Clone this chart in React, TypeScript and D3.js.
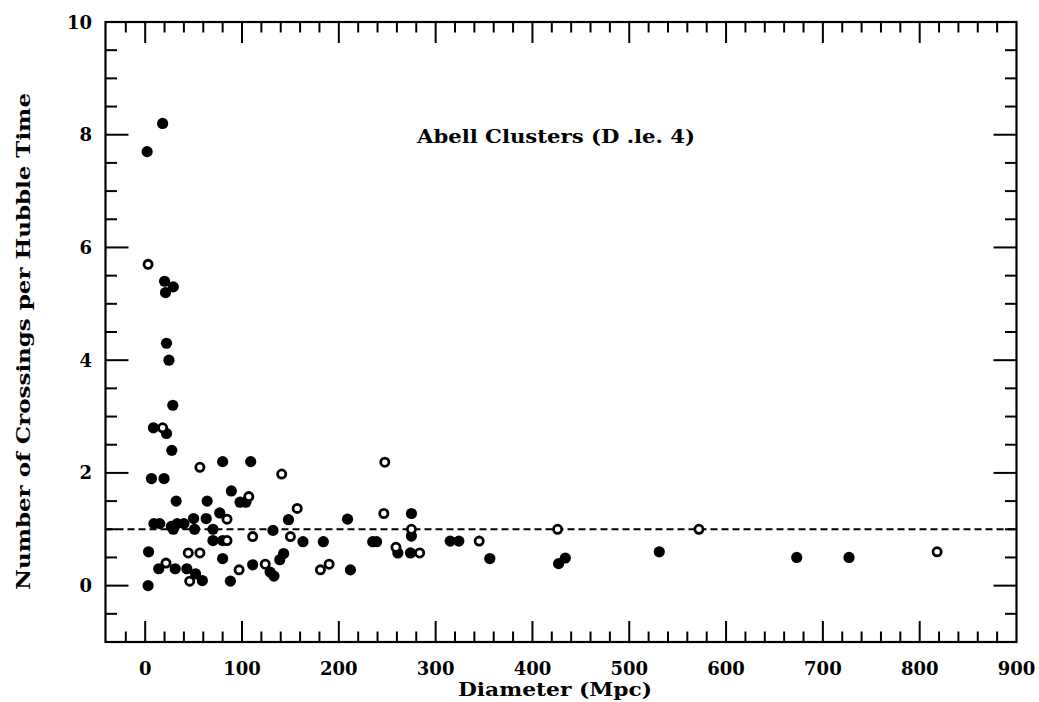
import React from "react";
import * as d3 from "d3";

const filledPoints: [number, number][] = [
  [2, 7.7], [18, 8.2], [20, 5.4], [29, 5.3], [21, 5.2], [22, 4.3], [24.5, 4.0], [28.5, 3.2],
  [8.5, 2.8], [22, 2.7], [27.5, 2.4], [80, 2.2], [109, 2.2], [6.5, 1.9], [19.5, 1.9],
  [32, 1.5], [89, 1.68], [64, 1.5], [98, 1.48], [104, 1.48], [148, 1.17], [77, 1.29],
  [63, 1.19], [50, 1.19], [9, 1.1], [15, 1.1], [27, 1.05], [33, 1.1], [40, 1.1], [29, 1.0],
  [51, 1.0], [70, 1.0], [70, 0.8], [80, 0.8], [132, 0.98], [3.5, 0.6], [80, 0.48],
  [143, 0.57], [139, 0.46], [14, 0.3], [31, 0.3], [43, 0.3], [52, 0.21], [59, 0.09],
  [88, 0.08], [111, 0.37], [129, 0.24], [133, 0.17], [3, 0.0], [209, 1.18], [275, 1.28],
  [275, 0.88], [163, 0.78], [184, 0.78], [235, 0.78], [239, 0.78], [261, 0.58], [274, 0.58],
  [315, 0.79], [324, 0.79], [212, 0.28], [356, 0.48], [427, 0.39], [434, 0.49], [531, 0.6],
  [673, 0.5], [727, 0.5],
];

const openPoints: [number, number][] = [
  [3, 5.7], [18, 2.8], [56.5, 2.1], [141, 1.98], [107, 1.58], [157, 1.37], [84.5, 1.18],
  [111, 0.87], [150, 0.87], [84.5, 0.8], [44.5, 0.58], [56.5, 0.58], [21.5, 0.4], [46, 0.08],
  [97, 0.28], [124, 0.38], [247.5, 2.19], [246.5, 1.28], [275, 1.0], [259, 0.68],
  [283.5, 0.58], [345, 0.79], [181, 0.28], [190, 0.38], [426, 1.0], [572, 1.0], [818, 0.6],
];

const xTickLabels = [0, 100, 200, 300, 400, 500, 600, 700, 800, 900];
const yTickLabels = [0, 2, 4, 6, 8, 10];
const referenceLevel = 1;

const titleText = "Abell Clusters (D .le. 4)";
const xAxisTitle = "Diameter (Mpc)";
const yAxisTitle = "Number of Crossings per Hubble Time";

export default function App() {
  const W = 1039, H = 702;
  const left = 105.5, right = 1016.5, top = 22, bottom = 642;
  const x = d3.scaleLinear().domain([-41, 900]).range([left, right]);
  const y = d3.scaleLinear().domain([-1, 10]).range([bottom, top]);

  const xMinor = d3.range(-40, 901, 20).filter((v) => x(v) > left + 1 && x(v) < right - 1);
  const yMinor = d3.range(-1, 10.01, 0.5).filter((v) => y(v) < bottom - 1 && y(v) > top + 1);
  const isXMajor = (v: number) => Math.abs(v % 100) < 1e-6;
  const isYMajor = (v: number) => Math.abs(v % 2) < 1e-6;

  const font = "'DejaVu Serif', serif";
  const sw = 2;

  return (
    <svg width={W} height={H} style={{ position: "absolute", left: 0, top: 0, background: "#fff" }}>
      <rect x={0} y={0} width={W} height={H} fill="#fff" />
      {xMinor.map((v) => {
        const len = isXMajor(v) ? 21 : 10.5;
        return (
          <g key={"xt" + v} stroke="#000" strokeWidth={sw}>
            <line x1={x(v)} x2={x(v)} y1={bottom} y2={bottom - len} />
            <line x1={x(v)} x2={x(v)} y1={top} y2={top + len} />
          </g>
        );
      })}
      {yMinor.map((v) => {
        const len = isYMajor(v) ? 23 : 11.5;
        return (
          <g key={"yt" + v} stroke="#000" strokeWidth={sw}>
            <line x1={left} x2={left + len} y1={y(v)} y2={y(v)} />
            <line x1={right} x2={right - len} y1={y(v)} y2={y(v)} />
          </g>
        );
      })}
      <rect x={left} y={top} width={right - left} height={bottom - top} fill="none" stroke="#000" strokeWidth={2.2} />

      <line
        x1={x(-41)} x2={x(900)} y1={y(referenceLevel)} y2={y(referenceLevel)}
        stroke="#000" strokeWidth={2} strokeDasharray="7 4"
      />

      {filledPoints.map(([d, c], i) => (
        <circle key={"f" + i} cx={x(d)} cy={y(c)} r={5.6} fill="#000" />
      ))}
      {openPoints.map(([d, c], i) => (
        <circle key={"o" + i} cx={x(d)} cy={y(c)} r={4.1} fill="#fff" stroke="#000" strokeWidth={2.8} />
      ))}

      {xTickLabels.map((v) => (
        <text key={"xl" + v} x={x(v)} y={675} textAnchor="middle" fontFamily={font} fontWeight="bold" fontSize={18}>
          {v}
        </text>
      ))}
      {yTickLabels.map((v) => (
        <text key={"yl" + v} x={92} y={y(v) + 6.5} textAnchor="end" fontFamily={font} fontWeight="bold" fontSize={18}>
          {v}
        </text>
      ))}

      <text x={417} y={143} fontFamily={font} fontWeight="bold" fontSize={18} textLength={278} lengthAdjust="spacingAndGlyphs">
        {titleText}
      </text>
      <text x={458} y={696} fontFamily={font} fontWeight="bold" fontSize={18} textLength={194} lengthAdjust="spacingAndGlyphs">
        {xAxisTitle}
      </text>
      <text
        transform={`translate(30, 590) rotate(-90)`}
        x={0} y={0} fontFamily={font} fontWeight="bold" fontSize={18} textLength={497} lengthAdjust="spacingAndGlyphs"
      >
        {yAxisTitle}
      </text>
    </svg>
  );
}
